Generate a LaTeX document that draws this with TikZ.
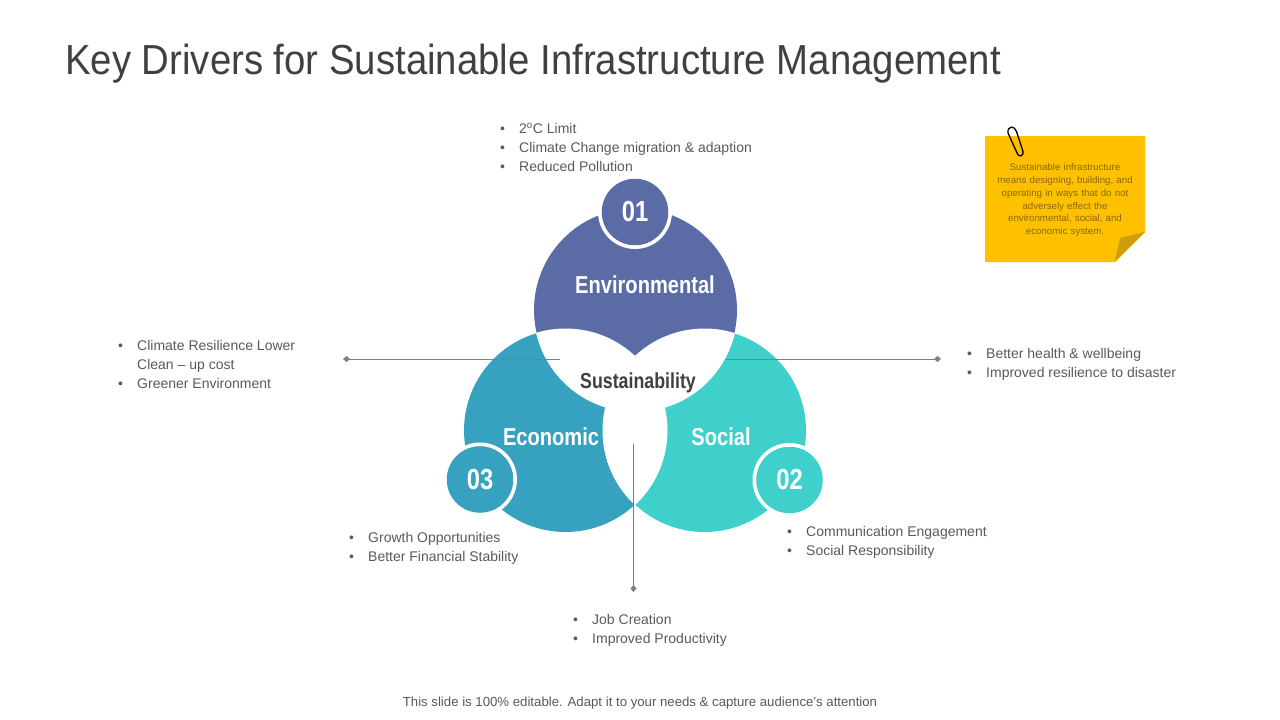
\documentclass[tikz,border=0pt]{standalone}
\usepackage{fontspec}
\setmainfont{Liberation Sans}
\newfontfamily\narrowfont[FakeStretch=0.82]{Liberation Sans}
\newfontfamily\titlefont[FakeStretch=0.913]{Liberation Sans}
\usetikzlibrary{arrows.meta}

\definecolor{envcol}{HTML}{5A6BA6}
\definecolor{ecocol}{HTML}{36A2C0}
\definecolor{soccol}{HTML}{40D0CB}
\definecolor{notecol}{HTML}{FFC000}
\definecolor{foldcol}{HTML}{CC9F0A}
\definecolor{notetxt}{HTML}{866A00}
\definecolor{bodytxt}{HTML}{595959}
\definecolor{titletxt}{HTML}{404040}
\definecolor{linecol}{HTML}{7F7F7F}

\tikzset{
    bullets/.style={text=bodytxt, font=\fontsize{14}{19}\selectfont, anchor=north west, inner sep=0pt, align=left},
    badge/.style={circle, minimum size=66.5pt, inner sep=0pt, text=white, font=\narrowfont\bfseries\fontsize{29}{29}\selectfont},
    ring/.style={white, line width=4pt},
    petal/.style={text=white, font=\narrowfont\bfseries\fontsize{24.5}{24.5}\selectfont},
    leader/.style={linecol, line width=0.7pt, -{Diamond[length=7pt,width=6pt]}},
}

\newcommand{\bl}[1]{\makebox[19pt][l]{\textbullet}#1}

\begin{document}
\begin{tikzpicture}[x=1pt,y=-1pt]
    \useasboundingbox (0,0) rectangle (1280,720);

    \node[anchor=west, inner sep=0pt, text=titletxt, font=\titlefont\fontsize{42}{42}\selectfont] (title) at (65,64) {Key Drivers for Sustainable Infrastructure Management};

    % the three circles
    \fill[envcol] (635.5,310) circle (101.5pt);
    \fill[ecocol] (565.5,430.5) circle (101.5pt);
    \fill[soccol] (704.5,430.5) circle (101.5pt);

    % overlaps are knocked out
    \begin{scope}
        \clip (635.5,310) circle (102pt);
        \fill[white] (565.5,430.5) circle (102pt);
        \fill[white] (704.5,430.5) circle (102pt);
    \end{scope}
    \begin{scope}
        \clip (565.5,430.5) circle (102pt);
        \fill[white] (704.5,430.5) circle (102pt);
    \end{scope}

    \coordinate (leftfrom) at (560,359);
    \coordinate (leftend) at (343,359);
    \coordinate (rightfrom) at (725,359);
    \coordinate (rightend) at (941,359);
    \coordinate (downfrom) at (633.5,444);
    \coordinate (downend) at (633.5,592);
    \draw[leader] (leftfrom) -- (leftend);
    \draw[leader] (rightfrom) -- (rightend);
    \draw[leader] (downfrom) -- (downend);

    \node[petal] (environmental) at (645,285) {Environmental};
    \node[petal] (economic) at (551,437) {Economic};
    \node[petal] (social) at (721,437) {Social};
    \node[text=titletxt, font=\narrowfont\bfseries\fontsize{21.7}{21.7}\selectfont] (sustainability) at (638,382.5) {Sustainability};

    \draw[ring] (635,212) circle (35pt);
    \node[badge, fill=envcol] (badge1) at (635,212) {01};
    \draw[ring] (789.5,480) circle (35pt);
    \node[badge, fill=soccol] (badge2) at (789.5,480) {02};
    \draw[ring] (480,479.5) circle (35pt);
    \node[badge, fill=ecocol] (badge3) at (480,479.5) {03};

    % text lists
    \node[bullets] (list1) at (500,123) {\bl{2\textsuperscript{o}C Limit}\\\bl{Climate Change migration \& adaption}\\\bl{Reduced Pollution}};
    \node[bullets] (list2) at (118,340) {\bl{Climate Resilience Lower}\\\hspace*{19pt}Clean -- up cost\\\bl{Greener Environment}};
    \node[bullets] (list3) at (967,348) {\bl{Better health \& wellbeing}\\\bl{Improved resilience to disaster}};
    \node[bullets] (list4) at (349,532) {\bl{Growth Opportunities}\\\bl{Better Financial Stability}};
    \node[bullets] (list5) at (787,526) {\bl{Communication Engagement}\\\bl{Social Responsibility}};
    \node[bullets] (list6) at (573,614) {\bl{Job Creation}\\\bl{Improved Productivity}};

    % sticky note
    \fill[notecol] (985,136) -- (1145,136) -- (1145,232) -- (1115,262) -- (985,262) -- cycle;
    \fill[foldcol] (1145,232) -- (1120,238) -- (1114.5,262) -- cycle;
    \node[text=notetxt, align=center, font=\fontsize{9.7}{12.8}\selectfont, text width=150pt, inner sep=0pt, anchor=north] (notetext) at (1065,163.5) {Sustainable infrastructure\\means designing, building, and\\operating in ways that do not\\adversely effect the\\environmental, social, and\\economic system.};
    \draw[black, line width=1.3pt] (1008,133) -- (1017.5,154) .. controls (1019,157.5) and (1024,156) .. (1023,151.5) -- (1016.5,131.5) .. controls (1015,125.5) and (1007,125.5) .. (1008,133);

    \node[text=bodytxt, inner sep=0pt, font=\fontsize{13.2}{13.2}\selectfont] (footer) at (640,703.5) {This slide is 100\% editable. Adapt it to your needs \& capture audience's attention};
\end{tikzpicture}
\end{document}
